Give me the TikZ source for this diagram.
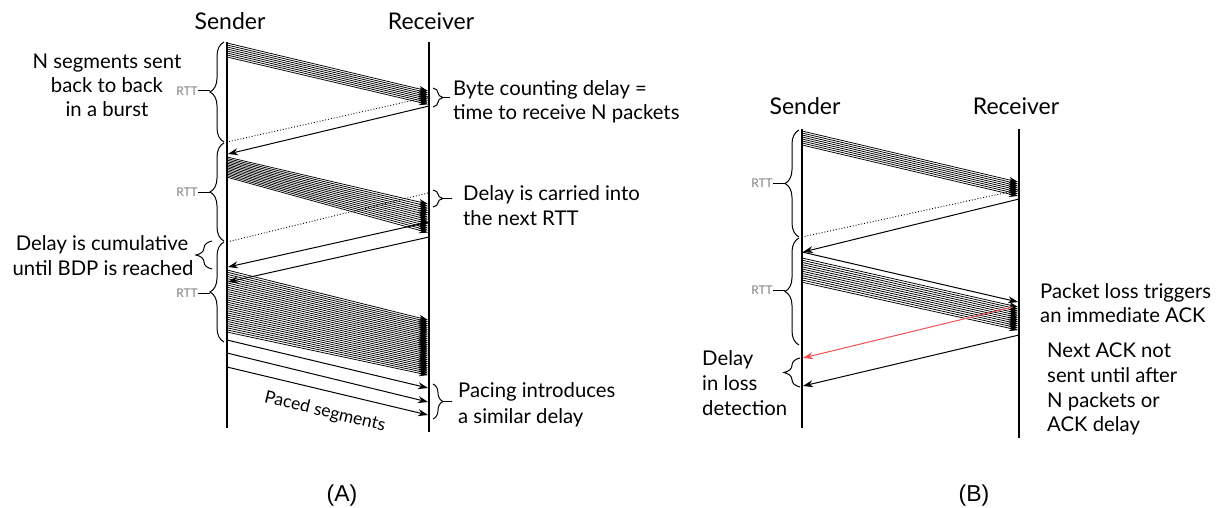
\documentclass[tikz,border=0pt]{standalone}
\usepackage{fontspec}
\setmainfont{Lato}
\newfontfamily\arialf{Liberation Sans}
\usetikzlibrary{arrows.meta,decorations.pathreplacing}
\begin{document}
\begin{tikzpicture}[x=1pt,y=-1pt,
  life/.style={line width=1.8pt},
  seg/.style={line width=0.75pt,-{Stealth[length=9pt,width=6pt]}},
  ack/.style={line width=1pt,-{Stealth[length=10pt,width=7pt]}},
  redack/.style={ack,draw={rgb,255:red,240;green,80;blue,80}},
  dots/.style={dotted,line width=0.9pt},
  brc/.style={decorate,decoration={brace,amplitude=#1},line width=1pt},
  brc/.default=14pt,
  lbl/.style={font=\fontsize{20.3}{24}\selectfont,inner sep=0pt},
  hdr/.style={font=\fontsize{23}{27}\selectfont,inner sep=0pt,anchor=base},
  rtt/.style={font=\fontsize{12}{14}\selectfont,text=gray,inner sep=0pt,anchor=east},
  panelcap/.style={font=\arialf\fontsize{23}{27}\selectfont,inner sep=0pt,anchor=base}
]
\useasboundingbox (0,0) rectangle (1231,508);

% ---------------- Panel A ----------------
\node[hdr] (sendA) at (230,30) {Sender};
\node[hdr] (recvA) at (431,30) {Receiver};
\coordinate (sAt) at (227,42); \coordinate (sAb) at (227,428);
\coordinate (rAt) at (429,42); \coordinate (rAb) at (429,432);
\draw[life] (sAt) -- (sAb);
\draw[life] (rAt) -- (rAb);

% burst 1
\foreach \i in {0,...,7}{
  \coordinate (a1s\i) at (227,{43+2*\i});
  \coordinate (a1r\i) at (428,{91+1.9*\i});
  \draw[seg] (a1s\i) -- (a1r\i);
}
\coordinate (d1r) at (428,97); \coordinate (d1s) at (227,142);
\draw[dots] (d1r) -- (d1s);
\coordinate (k1r) at (429,106); \coordinate (k1s) at (228,154);
\draw[ack] (k1r) -- (k1s);

% burst 2
\foreach \i in {0,...,13}{
  \coordinate (a2s\i) at (227,{157+1.55*\i});
  \coordinate (a2r\i) at (428,{204+2.2*\i});
  \draw[seg] (a2s\i) -- (a2r\i);
}
\coordinate (d2r) at (428,193); \coordinate (d2s) at (227,242);
\draw[dots] (d2r) -- (d2s);
\coordinate (k2r) at (429,222); \coordinate (k2s) at (228,267);
\draw[ack] (k2r) -- (k2s);
\coordinate (k3r) at (429,237); \coordinate (k3s) at (228,282);
\draw[ack] (k3r) -- (k3s);

% burst 3
\foreach \i in {0,...,29}{
  \coordinate (a3s\i) at (227,{270+2.14*\i});
  \coordinate (a3r\i) at (428,{320+1.9*\i});
  \draw[seg] (a3s\i) -- (a3r\i);
}
% paced
\coordinate (p1s) at (227,340); \coordinate (p1r) at (428,388);
\coordinate (p2s) at (227,353); \coordinate (p2r) at (428,402);
\coordinate (p3s) at (227,367); \coordinate (p3r) at (428,415);
\draw[ack] (p1s) -- (p1r);
\draw[ack] (p2s) -- (p2r);
\draw[ack] (p3s) -- (p3r);
\node[lbl,font=\fontsize{17.5}{21}\selectfont,rotate=-13.4] (paced) at (325,412) {Paced segments};

% left braces A
\draw[brc] (224,142) -- (224,42);
\draw[brc] (224,241) -- (224,143);
\draw[brc] (224,342) -- (224,242);
\node[rtt] (rttA1) at (198,91) {RTT};
\node[rtt] (rttA2) at (198,192) {RTT};
\node[rtt] (rttA3) at (198,293) {RTT};
\draw[line width=1pt] (rttA1.east) -- (210,91);
\draw[line width=1pt] (rttA2.east) -- (210,192);
\draw[line width=1pt] (rttA3.east) -- (210,293);
\draw[brc=16pt] (212,269) -- (212,241);

\node[lbl,anchor=base] (t1a) at (107,69) {N segments sent};
\node[lbl,anchor=base] (t1b) at (107,93) {back to back};
\node[lbl,anchor=base] (t1c) at (107,117) {in a burst};
\node[lbl,anchor=base] (t2a) at (102,250) {Delay is cumulative};
\node[lbl,anchor=base] (t2b) at (103,275) {until BDP is reached};

% right braces A
\draw[brc=10pt] (433,88) -- (433,107);
\draw[line width=1pt] (443,97.5) -- (450,97.5);
\draw[brc=10pt] (433,190) -- (433,207);
\draw[line width=1pt] (443,198.5) -- (452,198.5);
\draw[brc=10pt] (433,384) -- (433,419);
\draw[line width=1pt] (443,401.5) -- (452,401.5);
\node[lbl,anchor=base west] (t3a) at (453,96) {Byte counting delay =};
\node[lbl,anchor=base west] (t3b) at (453,120) {time to receive N packets};
\node[lbl,anchor=base west] (t4a) at (463,200) {Delay is carried into};
\node[lbl,anchor=base west] (t4b) at (463,225) {the next RTT};
\node[lbl,anchor=base west] (t5a) at (458,397) {Pacing introduces};
\node[lbl,anchor=base west] (t5b) at (458,423) {a similar delay};

\node[panelcap] (capA) at (342,501) {(A)};

% ---------------- Panel B ----------------
\node[hdr] (sendB) at (805,115) {Sender};
\node[hdr] (recvB) at (1016,115) {Receiver};
\coordinate (sBt) at (802,129); \coordinate (sBb) at (802,428);
\coordinate (rBt) at (1019,129); \coordinate (rBb) at (1019,438);
\draw[life] (sBt) -- (sBb);
\draw[life] (rBt) -- (rBb);

\foreach \i in {0,...,7}{
  \coordinate (b1s\i) at (802,{131+2*\i});
  \coordinate (b1r\i) at (1018,{182+2*\i});
  \draw[seg] (b1s\i) -- (b1r\i);
}
\coordinate (e1r) at (1018,190); \coordinate (e1s) at (802,237);
\draw[dots] (e1r) -- (e1s);
\coordinate (m1r) at (1019,199); \coordinate (m1s) at (803,252);
\draw[ack] (m1r) -- (m1s);

\coordinate (b2top) at (802,252); \coordinate (b2topr) at (1018,302);
\draw[ack] (b2top) -- (b2topr);
\foreach \i in {0,...,11}{
  \coordinate (b2s\i) at (802,{258+2.2*\i});
  \coordinate (b2r\i) at (1018,{307+2.1*\i});
  \draw[seg] (b2s\i) -- (b2r\i);
}
\coordinate (redr) at (1013,307); \coordinate (reds) at (803,358);
\draw[redack] (redr) -- (reds);
\coordinate (m2r) at (1019,335); \coordinate (m2s) at (803,386);
\draw[ack] (m2r) -- (m2s);

\draw[brc] (799,237) -- (799,130);
\draw[brc] (799,345) -- (799,238);
\node[rtt] (rttB1) at (773,183) {RTT};
\node[rtt] (rttB2) at (773,290) {RTT};
\draw[line width=1pt] (rttB1.east) -- (785,183);
\draw[line width=1pt] (rttB2.east) -- (785,290);
\draw[brc=16pt] (800,387) -- (800,358);

\node[lbl,anchor=base west] (t6a) at (702,365) {Delay};
\node[lbl,anchor=base west] (t6b) at (702,390) {in loss};
\node[lbl,anchor=base west] (t6c) at (702,415) {detection};

\node[lbl,anchor=base west] (t7a) at (1040,298) {Packet loss triggers};
\node[lbl,anchor=base west] (t7b) at (1040,322) {an immediate ACK};
\node[lbl,anchor=base west] (t8a) at (1047,357) {Next ACK not};
\node[lbl,anchor=base west] (t8b) at (1047,382) {sent until after};
\node[lbl,anchor=base west] (t8c) at (1047,407) {N packets or};
\node[lbl,anchor=base west] (t8d) at (1047,431) {ACK delay};

\node[panelcap] (capB) at (974,501) {(B)};
\end{tikzpicture}
\end{document}
